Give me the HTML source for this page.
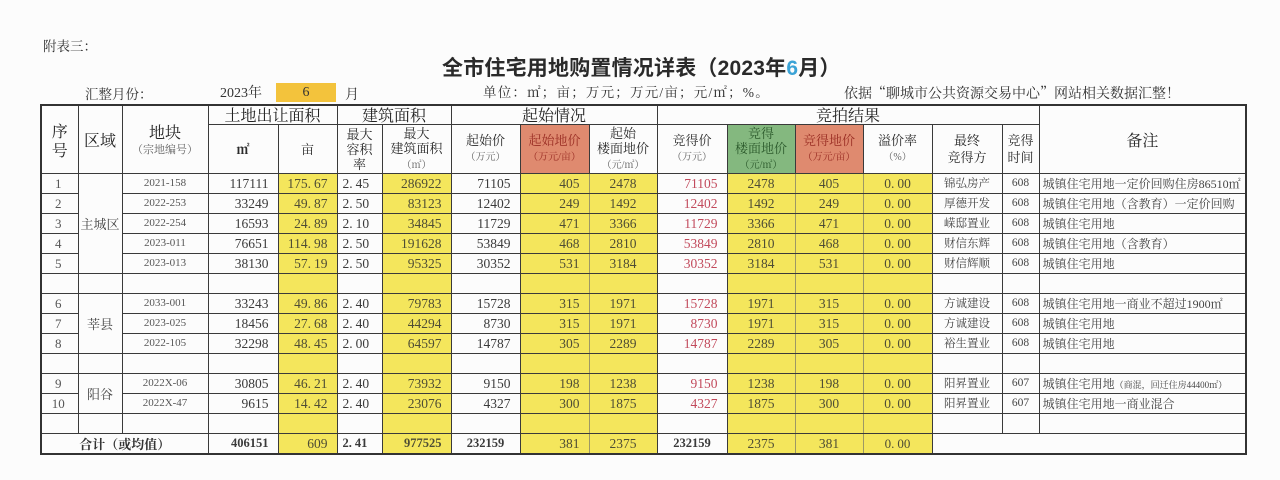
<!DOCTYPE html>
<html>
<head>
<meta charset="utf-8">
<style>
html,body{margin:0;padding:0;}
body{width:1280px;height:480px;overflow:hidden;background:#fcfcfc;position:relative;font-family:"Liberation Serif","Noto Serif CJK SC",serif;color:#333;}
.abs{position:absolute;white-space:nowrap;line-height:1;}
.title{left:442px;top:58px;font-family:"Liberation Sans","Noto Sans CJK SC",sans-serif;font-size:21px;font-weight:bold;color:#2a2a2a;letter-spacing:0.2px;}
.title b{color:#3ba3d6;}
table.t{position:absolute;left:40px;top:104px;width:1205px;border-collapse:collapse;table-layout:fixed;border:2px solid #333;}
.t td{border:1px solid #3a3a3a;padding:0;overflow:hidden;white-space:nowrap;font-size:13.5px;line-height:1;text-align:center;vertical-align:middle;color:#3a3a3a;}
.t tr.d{height:20px;}
.t td.hh{font-family:"Noto Serif CJK SC",serif;font-size:16px;line-height:19px;color:#222;}
.t td.hg{font-family:"Noto Serif CJK SC",serif;font-size:16px;line-height:18px;color:#222;overflow:visible;}
.t td.h2{font-family:"Liberation Serif","Noto Serif CJK SC",serif;font-size:13px;line-height:15px;color:#2a2a2a;}
.s{font-size:10px;color:#666;}
.t td.red{background:#df8a6f;}
.t td.red,.t td.red .s{color:#9a2e24;}
.t td.grn{background:#84b87f;}
.t td.grn,.t td.grn .s{color:#2c5a2c;}
.t td.y{background:#f4e65c;color:#4e4d35;}
.t td.r{text-align:right;padding-right:9px;}
.t td.l{text-align:left;padding-left:5px;}
.t td.f{border-right-color:#9d9865;}
.t td.n{font-size:13px;padding-right:3px;color:#555;}
.t td.cd{font-size:11px;color:#555;}
.t td.rd{color:#c24a5c;}
.t td.cn{font-family:"Noto Serif CJK SC",serif;font-size:11.5px;color:#444;}
.t td.tm{font-size:11.5px;color:#444;}
.t td.bz{text-align:left;padding-left:3px;font-family:"Liberation Serif","Noto Serif CJK SC",serif;font-size:12px;color:#444;}
.t td.qy{font-family:"Noto Serif CJK SC",serif;font-size:13px;color:#444;}
.dt{margin-right:3px;}
.tot td{font-weight:bold;font-size:13px;}
</style>
</head>
<body>
<div class="abs" style="left:43px;top:39px;font-size:13.5px;font-family:'Noto Serif CJK SC',serif;color:#333;">附表三：</div>
<div class="abs title">全市住宅用地购置情况详表（2023年<b>6</b>月）</div>
<div class="abs" style="left:85px;top:87px;font-size:13.5px;font-family:'Noto Serif CJK SC',serif;">汇整月份：</div>
<div class="abs" style="left:220px;top:87px;font-size:14px;">2023年</div>
<div class="abs" style="left:276px;top:83px;width:60px;height:19px;background:#f3c33c;text-align:center;font-size:14px;line-height:19px;">6</div>
<div class="abs" style="left:345px;top:87px;font-size:14px;font-family:'Noto Serif CJK SC',serif;">月</div>
<div class="abs" style="left:483px;top:86px;font-size:13.5px;letter-spacing:1.2px;">单位：㎡；亩；万元；万元/亩；元/㎡；%。</div>
<div class="abs" style="left:844px;top:86px;font-size:14px;font-family:'Noto Serif CJK SC',serif;">依据“聊城市公共资源交易中心”网站相关数据汇整！</div>

<table class="t">
<colgroup>
<col style="width:37px"><col style="width:44px"><col style="width:86px"><col style="width:70px"><col style="width:59px"><col style="width:45px"><col style="width:69px"><col style="width:69px"><col style="width:69px"><col style="width:68px"><col style="width:70px"><col style="width:68px"><col style="width:68px"><col style="width:69px"><col style="width:70px"><col style="width:37px"><col style="width:207px">
</colgroup>
<tr style="height:19px">
<td rowspan="2" class="hh">序<br>号</td>
<td rowspan="2" class="hh">区域</td>
<td rowspan="2" class="hh"><div style="font-size:16px;line-height:18px;color:#222;">地块</div><div class="s" style="font-size:11px;line-height:13px;margin-top:2px;">（宗地编号）</div></td>
<td colspan="2" class="hg">土地出让面积</td>
<td colspan="2" class="hg">建筑面积</td>
<td colspan="3" class="hg">起始情况</td>
<td colspan="6" class="hg">竞拍结果</td>
<td rowspan="2" class="hg">备注</td>
</tr>
<tr style="height:49px">
<td class="h2" style="font-weight:bold;">㎡</td>
<td class="h2">亩</td>
<td class="h2">最大<br>容积<br>率</td>
<td class="h2">最大<br>建筑面积<br><span class="s">（㎡）</span></td>
<td class="h2">起始价<br><span class="s">（万元）</span></td>
<td class="h2 red">起始地价<br><span class="s">（万元/亩）</span></td>
<td class="h2">起始<br>楼面地价<br><span class="s">（元/㎡）</span></td>
<td class="h2">竞得价<br><span class="s">（万元）</span></td>
<td class="h2 grn">竞得<br>楼面地价<br><span class="s">（元/㎡）</span></td>
<td class="h2 red">竞得地价<br><span class="s">（万元/亩）</span></td>
<td class="h2">溢价率<br><span class="s">（%）</span></td>
<td class="h2" style="line-height:17px;">最终<br>竞得方</td>
<td class="h2" style="line-height:17px;">竞得<br>时间</td>
</tr>

<tr class="d"><td class="n">1</td><td rowspan="5" class="qy">主城区</td><td class="cd">2021-158</td><td class="r">117111</td><td class="y r">175<span class="dt">.</span>67</td><td class="l">2<span class="dt">.</span>45</td><td class="y r">286922</td><td class="r">71105</td><td class="y r f">405</td><td class="y">2478</td><td class="r rd">71105</td><td class="y f">2478</td><td class="y f">405</td><td class="y">0<span class="dt">.</span>00</td><td class="cn">锦弘房产</td><td class="tm">608</td><td class="bz">城镇住宅用地一定价回购住房86510㎡</td></tr>
<tr class="d"><td class="n">2</td><td class="cd">2022-253</td><td class="r">33249</td><td class="y r">49<span class="dt">.</span>87</td><td class="l">2<span class="dt">.</span>50</td><td class="y r">83123</td><td class="r">12402</td><td class="y r f">249</td><td class="y">1492</td><td class="r rd">12402</td><td class="y f">1492</td><td class="y f">249</td><td class="y">0<span class="dt">.</span>00</td><td class="cn">厚德开发</td><td class="tm">608</td><td class="bz">城镇住宅用地（含教育）一定价回购</td></tr>
<tr class="d"><td class="n">3</td><td class="cd">2022-254</td><td class="r">16593</td><td class="y r">24<span class="dt">.</span>89</td><td class="l">2<span class="dt">.</span>10</td><td class="y r">34845</td><td class="r">11729</td><td class="y r f">471</td><td class="y">3366</td><td class="r rd">11729</td><td class="y f">3366</td><td class="y f">471</td><td class="y">0<span class="dt">.</span>00</td><td class="cn">嵘邸置业</td><td class="tm">608</td><td class="bz">城镇住宅用地</td></tr>
<tr class="d"><td class="n">4</td><td class="cd">2023-011</td><td class="r">76651</td><td class="y r">114<span class="dt">.</span>98</td><td class="l">2<span class="dt">.</span>50</td><td class="y r">191628</td><td class="r">53849</td><td class="y r f">468</td><td class="y">2810</td><td class="r rd">53849</td><td class="y f">2810</td><td class="y f">468</td><td class="y">0<span class="dt">.</span>00</td><td class="cn">财信东辉</td><td class="tm">608</td><td class="bz">城镇住宅用地（含教育）</td></tr>
<tr class="d"><td class="n">5</td><td class="cd">2023-013</td><td class="r">38130</td><td class="y r">57<span class="dt">.</span>19</td><td class="l">2<span class="dt">.</span>50</td><td class="y r">95325</td><td class="r">30352</td><td class="y r f">531</td><td class="y">3184</td><td class="r rd">30352</td><td class="y f">3184</td><td class="y f">531</td><td class="y">0<span class="dt">.</span>00</td><td class="cn">财信辉顺</td><td class="tm">608</td><td class="bz">城镇住宅用地</td></tr>
<tr class="d"><td></td><td></td><td></td><td></td><td class="y"></td><td></td><td class="y"></td><td></td><td class="y f"></td><td class="y"></td><td></td><td class="y f"></td><td class="y f"></td><td class="y"></td><td></td><td></td><td></td></tr>

<tr class="d"><td class="n">6</td><td rowspan="3" class="qy">莘县</td><td class="cd">2033-001</td><td class="r">33243</td><td class="y r">49<span class="dt">.</span>86</td><td class="l">2<span class="dt">.</span>40</td><td class="y r">79783</td><td class="r">15728</td><td class="y r f">315</td><td class="y">1971</td><td class="r rd">15728</td><td class="y f">1971</td><td class="y f">315</td><td class="y">0<span class="dt">.</span>00</td><td class="cn">方诚建设</td><td class="tm">608</td><td class="bz">城镇住宅用地一商业不超过1900㎡</td></tr>
<tr class="d"><td class="n">7</td><td class="cd">2023-025</td><td class="r">18456</td><td class="y r">27<span class="dt">.</span>68</td><td class="l">2<span class="dt">.</span>40</td><td class="y r">44294</td><td class="r">8730</td><td class="y r f">315</td><td class="y">1971</td><td class="r rd">8730</td><td class="y f">1971</td><td class="y f">315</td><td class="y">0<span class="dt">.</span>00</td><td class="cn">方诚建设</td><td class="tm">608</td><td class="bz">城镇住宅用地</td></tr>
<tr class="d"><td class="n">8</td><td class="cd">2022-105</td><td class="r">32298</td><td class="y r">48<span class="dt">.</span>45</td><td class="l">2<span class="dt">.</span>00</td><td class="y r">64597</td><td class="r">14787</td><td class="y r f">305</td><td class="y">2289</td><td class="r rd">14787</td><td class="y f">2289</td><td class="y f">305</td><td class="y">0<span class="dt">.</span>00</td><td class="cn">裕生置业</td><td class="tm">608</td><td class="bz">城镇住宅用地</td></tr>
<tr class="d"><td></td><td></td><td></td><td></td><td class="y"></td><td></td><td class="y"></td><td></td><td class="y f"></td><td class="y"></td><td></td><td class="y f"></td><td class="y f"></td><td class="y"></td><td></td><td></td><td></td></tr>

<tr class="d"><td class="n">9</td><td rowspan="2" class="qy">阳谷</td><td class="cd">2022X-06</td><td class="r">30805</td><td class="y r">46<span class="dt">.</span>21</td><td class="l">2<span class="dt">.</span>40</td><td class="y r">73932</td><td class="r">9150</td><td class="y r f">198</td><td class="y">1238</td><td class="r rd">9150</td><td class="y f">1238</td><td class="y f">198</td><td class="y">0<span class="dt">.</span>00</td><td class="cn">阳昇置业</td><td class="tm">607</td><td class="bz">城镇住宅用地<span style="font-size:9px;">（商混，回迁住房44400㎡）</span></td></tr>
<tr class="d"><td class="n">10</td><td class="cd">2022X-47</td><td class="r">9615</td><td class="y r">14<span class="dt">.</span>42</td><td class="l">2<span class="dt">.</span>40</td><td class="y r">23076</td><td class="r">4327</td><td class="y r f">300</td><td class="y">1875</td><td class="r rd">4327</td><td class="y f">1875</td><td class="y f">300</td><td class="y">0<span class="dt">.</span>00</td><td class="cn">阳昇置业</td><td class="tm">607</td><td class="bz">城镇住宅用地一商业混合</td></tr>
<tr class="d"><td></td><td></td><td></td><td></td><td class="y"></td><td></td><td class="y"></td><td></td><td class="y f"></td><td class="y"></td><td></td><td class="y f"></td><td class="y f"></td><td class="y"></td><td></td><td></td><td></td></tr>

<tr class="d tot"><td colspan="3" style="font-family:'Noto Serif CJK SC',serif;font-size:13px;color:#333;">合计（或均值）</td><td class="r" style="font-size:12.5px;">406151</td><td class="y r" style="font-weight:normal;font-size:13.5px;">609</td><td class="l" style="font-size:12.5px;">2<span class="dt">.</span>41</td><td class="y r" style="font-size:12.5px;">977525</td><td style="font-size:12.5px;">232159</td><td class="y r f" style="font-weight:normal;font-size:13.5px;">381</td><td class="y" style="font-weight:normal;font-size:13.5px;">2375</td><td style="font-size:12.5px;">232159</td><td class="y f" style="font-weight:normal;font-size:13.5px;">2375</td><td class="y f" style="font-weight:normal;font-size:13.5px;">381</td><td class="y" style="font-weight:normal;">0<span class="dt">.</span>00</td><td colspan="3"></td></tr>
</table>
</body>
</html>
